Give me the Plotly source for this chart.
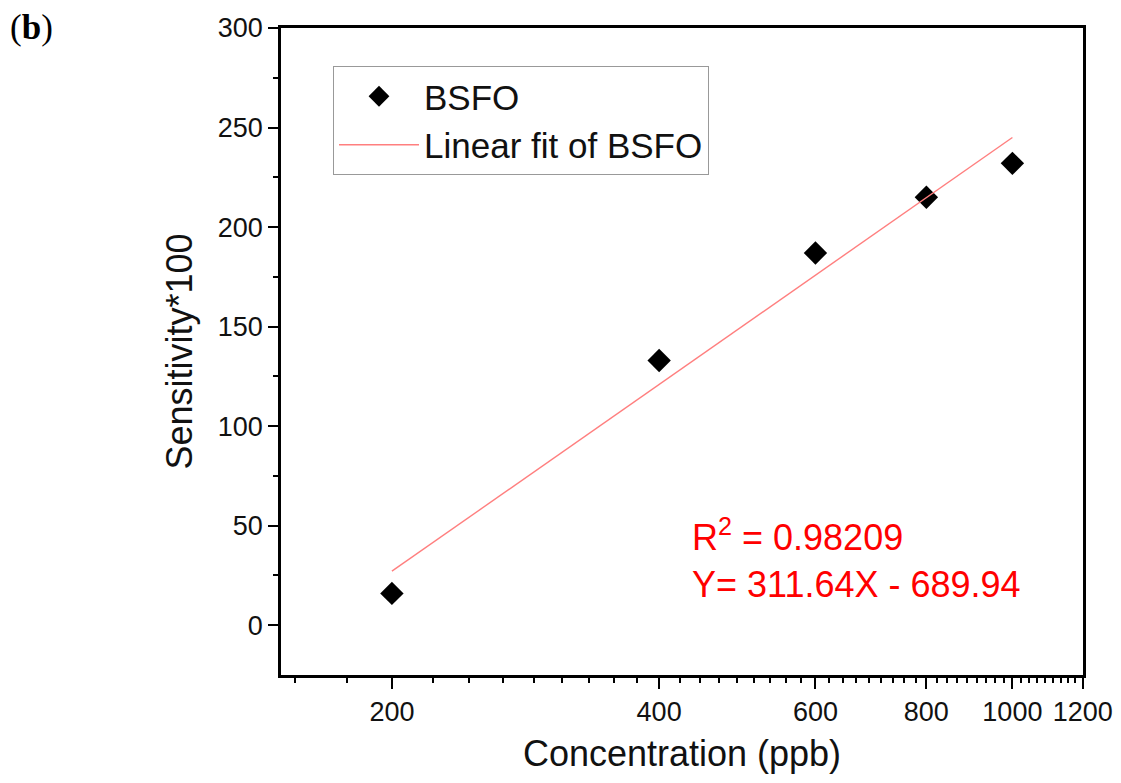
import plotly.graph_objects as go
import numpy as np

# Measured sensitivity (x100) at each concentration
conc_ppb = [200, 400, 600, 800, 1000]
sensitivity = [16, 133, 187, 215, 232]

# Fit shown on the chart: Y = slope * log10(X) + intercept
fit_slope = 311.64
fit_intercept = -689.94
fit_r2 = "0.98209"
fit_x = [200, 1000]
fit_y = [fit_slope * np.log10(v) + fit_intercept for v in fit_x]

x_ticks = [200, 400, 600, 800, 1000, 1200]
y_ticks = [0, 50, 100, 150, 200, 250, 300]
y_minor = [25, 75, 125, 175, 225, 275]

# Origin-style minor ticks: 8 between each pair of majors
x_minor = []
for lo in [0] + x_ticks[:-1]:
    step = 200 / 9
    x_minor += [lo + step * k for k in range(1, 9)]
x_minor = [v for v in x_minor if 150 < v < 1200]

font = "Liberation Sans, Arial, sans-serif"

# page body has an 8px margin, so the figure is shrunk by that much
W, H = 1105, 767
ML, MR, MT, MB = 273, 30, 20, 100
plot_w = W - ML - MR
plot_h = H - MT - MB

fig = go.Figure()

fig.add_trace(go.Scatter(
    x=conc_ppb, y=sensitivity,
    mode="markers",
    name="BSFO",
    marker=dict(symbol="diamond", size=18, color="black"),
))

fig.add_trace(go.Scatter(
    x=fit_x, y=fit_y,
    mode="lines",
    name="Linear fit of BSFO",
    line=dict(color="#ff7f7f", width=1.4),
))

fig.update_layout(
    width=W, height=H,
    margin=dict(l=ML, r=MR, t=MT, b=MB, autoexpand=False),
    plot_bgcolor="white",
    paper_bgcolor="white",
    font=dict(family=font, color="#111111", size=27),
    legend=dict(
        x=(333 - 281) / plot_w, y=1 - (66 - 28) / plot_h,
        xanchor="left", yanchor="top",
        bordercolor="#999999", borderwidth=1,
        font=dict(size=35),
        bgcolor="white",
        itemwidth=80,
        tracegroupgap=0,
    ),
    xaxis=dict(
        type="log",
        range=[np.log10(150), np.log10(1201)],
        tickmode="array", tickvals=x_ticks,
        ticktext=[str(v) for v in x_ticks],
        ticks="outside", ticklen=11, tickwidth=2, tickcolor="black",
        minor=dict(tickmode="array", tickvals=x_minor, ticks="outside",
                   ticklen=5, tickwidth=2, tickcolor="black", showgrid=False),
        showline=True, linewidth=2.5, linecolor="black", mirror=True,
        showgrid=False, zeroline=False, automargin=False,
        title=dict(text="Concentration (ppb)", font=dict(size=36)),
    ),
    yaxis=dict(
        range=[-25, 300],
        tickmode="array", tickvals=y_ticks,
        ticks="outside", ticklen=10, tickwidth=2, tickcolor="black",
        minor=dict(tickmode="array", tickvals=y_minor,
                   ticks="outside", ticklen=5, tickwidth=2, tickcolor="black",
                   showgrid=False),
        showline=True, linewidth=2.5, linecolor="black", mirror=True,
        showgrid=False, zeroline=False, automargin=False,
        title=dict(text="Sensitivity*100", font=dict(size=36)),
    ),
)

fig.add_annotation(
    x=-ML / plot_w, y=1 + (MT + 2) / plot_h, xref="paper", yref="paper",
    xanchor="left", yanchor="top", showarrow=False,
    text="(<b>b</b>)",
    font=dict(family="Liberation Serif, Times New Roman, serif", size=35, color="black"),
)

fig.add_annotation(
    x=(690 - 281) / plot_w, y=1 - (558 - 28) / plot_h, xref="paper", yref="paper",
    xanchor="left", yanchor="middle", showarrow=False, align="left",
    text="R<sup>2</sup> = " + fit_r2 + "<br>Y= " + f"{fit_slope:.2f}X - {-fit_intercept:.2f}",
    font=dict(size=36, color="red"),
)

fig.write_html("out.html")
